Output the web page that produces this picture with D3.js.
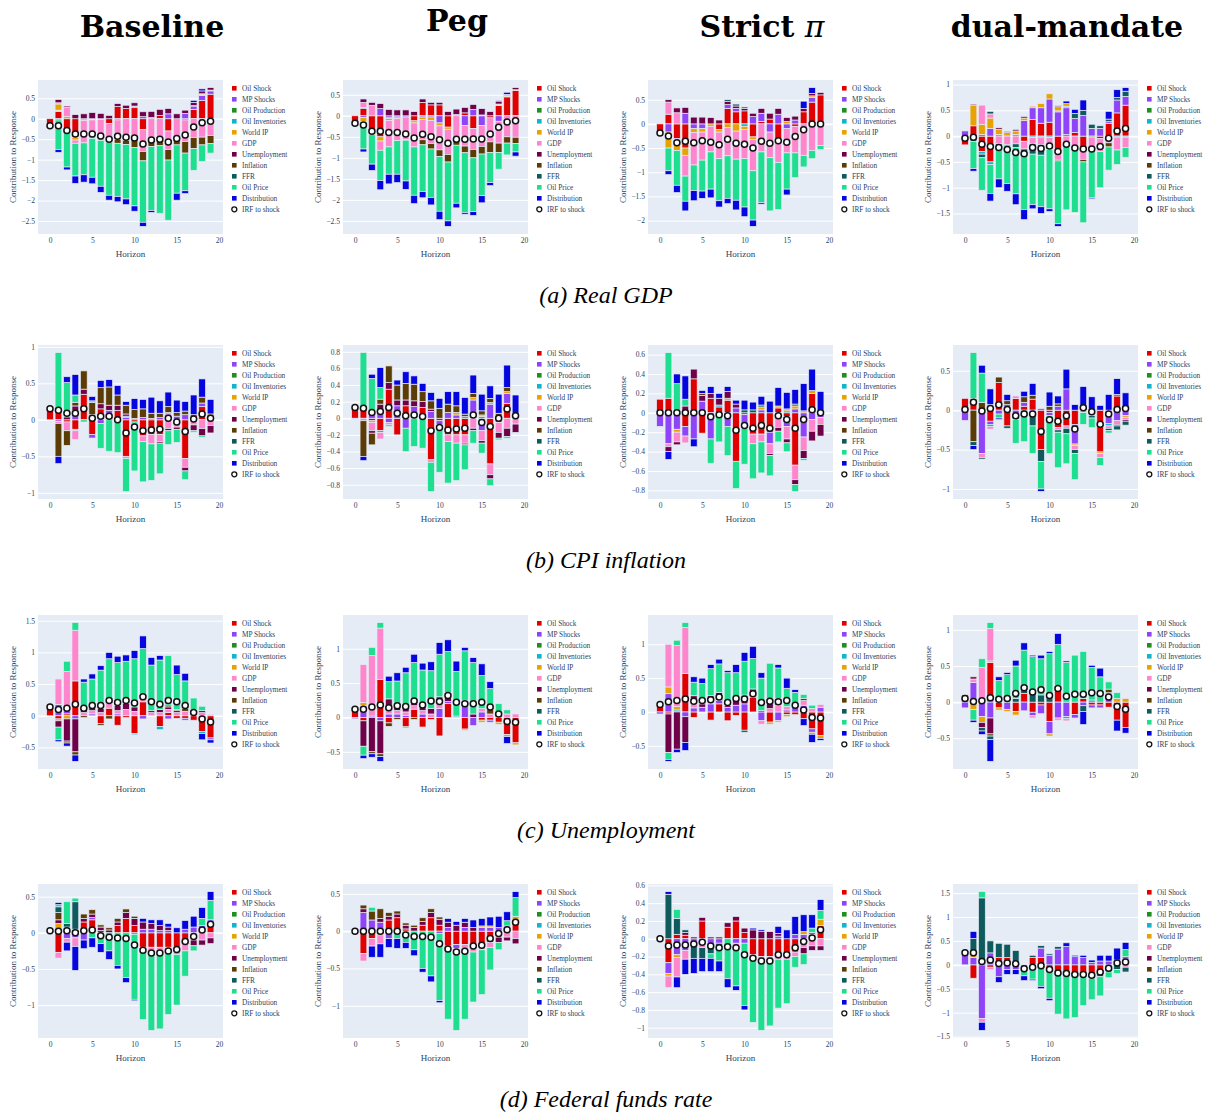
<!DOCTYPE html>
<html>
<head>
<meta charset="utf-8">
<script src="https://cdn.jsdelivr.net/npm/d3@7"></script>
<style>
  body { margin: 0; background: #fff; }
  svg text { font-family: "Liberation Serif", "Times New Roman", serif; }
</style>
</head>
<body>
<div id="visualization"></div>
<script>
// ---- categories / labels ----
const horizons = [0, 1, 2, 3, 4, 5, 6, 7, 8, 9, 10, 11, 12, 13, 14, 15, 16, 17, 18, 19];
const shockNames = ["Oil Shock", "MP Shocks", "Oil Production", "Oil Inventories", "World IP", "GDP",
  "Unemployment", "Inflation", "FFR", "Oil Price", "Distribution"];
const shockColors = ["#e00000", "#8f44f7", "#1f8f1f", "#12b5cb", "#e8a202", "#ff85cc",
  "#700048", "#5c3c05", "#0e5a5c", "#1ddf8f", "#0505e0"];
const columnTitles = ["Baseline", "Peg", "Strict", "dual-mandate"];
const rowCaptions = ["(a) Real GDP", "(b) CPI inflation", "(c) Unemployment", "(d) Federal funds rate"];
const xTicks = [0, 5, 10, 15, 20];
const yTickSteps = [[0.5, 0.5, 0.5, 0.5], [0.5, 0.2, 0.2, 0.5], [0.5, 0.5, 0.5, 0.5], [0.5, 0.5, 0.2, 0.5]];

// ---- (a) Real GDP ----
const gdpBase_oil   = [-0.16,0.18,-0.30,-0.45,0,0,0,-0.12,0.30,0.25,0.27,-0.27,0.03,0.08,-0.30,0,-0.03,0.23,0.45,0.60];
const gdpBase_mp    = [0,-0.03,0,0,-0.03,-0.02,-0.02,0,-0.03,0,0.03,0.05,0,0,0.12,0,0.13,0.08,0.12,0.08];
const gdpBase_prod  = [0,0.01,0,0,0,0,0,0,0,0,0,0,0,0,0,0,0,0,0.01,0];
const gdpBase_inv   = [0,0.02,0,-0.01,-0.01,-0.01,0,0,0,0,0.01,0,0,0,0,0,0,0.01,0.01,0.01];
const gdpBase_wip   = [0,0.15,0.05,-0.06,0,0,0,0,0,0,0,0,0,0,0,0,0,0,0.02,0.01];
const gdpBase_gdp   = [0,0.03,0.23,-0.08,-0.55,-0.45,-0.48,-0.45,-0.47,-0.53,-0.48,-0.53,-0.50,-0.48,-0.45,-0.48,-0.53,-0.46,-0.45,-0.41];
const gdpBase_unemp = [0,0.08,0.03,0.10,0.12,0.15,0.13,0.08,0.07,0.08,0.08,0.12,0.15,0.15,0.13,0.12,0.08,0.08,0.07,0.06];
const gdpBase_infl  = [0,0,0,0,0,0,-0.03,0,-0.10,-0.10,-0.22,-0.23,-0.18,-0.18,-0.26,-0.16,-0.28,-0.27,-0.19,-0.20];
const gdpBase_ffr   = [0,0,0,0,0,0,0,0,0,0,0,0,0,0,0,0,0,0,0,0];
const gdpBase_oilp  = [0,-0.72,-0.88,-0.80,-0.78,-0.95,-1.12,-1.30,-1.30,-1.33,-1.43,-1.50,-1.56,-1.65,-1.47,-1.18,-0.92,-0.53,-0.40,-0.23];
const gdpBase_dist  = [0,-0.07,-0.07,-0.18,-0.18,-0.16,-0.15,-0.12,-0.13,-0.14,-0.13,-0.10,-0.05,0,0,-0.17,-0.07,0.05,0.05,0];
const gdpBase_irf   = [-0.17,-0.17,-0.29,-0.37,-0.37,-0.37,-0.42,-0.50,-0.43,-0.45,-0.47,-0.62,-0.52,-0.50,-0.57,-0.48,-0.40,-0.20,-0.10,-0.06];

const gdpPeg_oil   = [-0.17,0.18,-0.38,-0.50,0,0,0,-0.12,0.32,0.26,0.26,-0.27,0,0.07,-0.30,0,-0.05,0.25,0.45,0.60];
const gdpPeg_mp    = [0,-0.04,0,0.17,-0.05,-0.03,-0.03,0,-0.03,-0.03,-0.17,0,0,-0.23,0.15,-0.23,0,-0.13,0,0];
const gdpPeg_prod  = [0,0,0,0,0,0,0,0,0,0,0,0,0,0,0,0,0,0,0,0];
const gdpPeg_inv   = [0,0.02,0,0,-0.01,0,0,0,0,0,0,0,0.03,0,0,0,0,0.01,0.01,0];
const gdpPeg_wip   = [0,-0.10,-0.07,-0.10,-0.05,-0.04,0,-0.05,-0.06,-0.08,-0.07,-0.05,0,0,0,0.02,0,0.02,0.03,0.02];
const gdpPeg_gdp   = [0,0.12,0.25,-0.22,-0.63,-0.52,-0.53,-0.57,-0.48,-0.55,-0.57,-0.60,-0.55,-0.49,-0.50,-0.50,-0.57,-0.52,-0.50,-0.51];
const gdpPeg_unemp = [0,0.08,0.07,0.12,0.15,0.14,0.14,0.10,0.08,0.06,0.06,0.10,0.13,0.13,0.12,0.15,0.10,0.07,0.02,0.05];
const gdpPeg_infl  = [0,0,0,0,0,0,-0.02,0,-0.12,-0.13,-0.16,-0.18,-0.15,-0.16,-0.20,-0.18,-0.25,-0.22,-0.15,-0.15];
const gdpPeg_ffr   = [0,0,0,0,0,0,0,0,0,0,0,0,0,0,0,0,0,0,0,0];
const gdpPeg_oilp  = [0,-0.65,-0.70,-0.72,-0.65,-0.80,-0.97,-1.15,-1.11,-1.15,-1.30,-1.40,-1.38,-1.42,-1.28,-0.99,-0.72,-0.40,-0.28,-0.20];
const gdpPeg_dist  = [0,-0.07,-0.15,-0.22,-0.23,-0.20,-0.20,-0.20,-0.15,-0.18,-0.20,-0.13,-0.11,-0.04,-0.09,-0.17,-0.07,0.02,0.05,-0.10];
const gdpPeg_irf   = [-0.18,-0.22,-0.37,-0.37,-0.40,-0.40,-0.43,-0.53,-0.44,-0.50,-0.57,-0.65,-0.56,-0.56,-0.55,-0.55,-0.43,-0.27,-0.15,-0.12];

const gdpStrict_oil   = [-0.17,0.20,-0.30,-0.50,0,0,0,-0.12,0.32,0.25,0.27,-0.27,0.05,0.10,-0.30,0,-0.05,0.25,0.45,0.60];
const gdpStrict_mp    = [0,-0.17,-0.03,0.22,-0.10,-0.10,0,0,0.08,0.07,0,0.15,0.17,-0.17,0.20,-0.10,0.08,0,0.10,0];
const gdpStrict_prod  = [0,0,0,0,0,0,0,0,0,0,0,0,0,0,0,0,0,0,0,0];
const gdpStrict_inv   = [0,0,-0.05,0,0,0,0,0,0,0,-0.05,0,0,0,0,0,0,0,0,0];
const gdpStrict_wip   = [0,-0.33,-0.17,-0.15,-0.08,-0.07,-0.05,-0.05,-0.08,-0.15,-0.07,-0.05,0,0,0,0.05,0,0,0.03,0];
const gdpStrict_gdp   = [0,0.25,0.23,-0.43,-0.67,-0.58,-0.53,-0.55,-0.58,-0.58,-0.60,-0.65,-0.58,-0.53,-0.50,-0.50,-0.55,-0.65,-0.55,-0.45];
const gdpStrict_unemp = [0,0.05,0.10,0.12,0.14,0.14,0.13,0.08,0.06,0.05,0.05,0.07,0.10,0.12,0.12,0.08,0.08,0.07,0.05,0.05];
const gdpStrict_infl  = [0,0,0,0,0,0,0,0,0,0,0,0,0,0,0,0,0,0,0,0];
const gdpStrict_ffr   = [0,0,0,0,0,0,0,0,0.04,0.04,0.03,0,0,0,0,0,0,0,0,0];
const gdpStrict_oilp  = [0,-0.47,-0.72,-0.52,-0.53,-0.64,-0.77,-0.87,-0.88,-0.85,-1.00,-1.02,-1.05,-1.10,-0.97,-0.75,-0.51,-0.24,-0.17,-0.08];
const gdpStrict_dist  = [0,-0.08,-0.15,-0.20,-0.21,-0.15,-0.18,-0.13,-0.11,-0.20,-0.20,-0.13,-0.03,0,0,-0.12,0,0.15,0.12,0];
const gdpStrict_irf   = [-0.19,-0.25,-0.39,-0.36,-0.39,-0.35,-0.38,-0.43,-0.32,-0.40,-0.42,-0.50,-0.36,-0.40,-0.35,-0.38,-0.26,-0.12,0,0];

const gdpDual_oil   = [-0.17,0.20,-0.30,-0.50,0,0,0,-0.10,0.32,0.25,0.27,-0.30,0.03,0.07,-0.30,0,-0.05,0.25,0.45,0.60];
const gdpDual_mp    = [0.10,0,0.03,0.15,0.03,0,0.03,0.30,0.23,0.30,0.45,0.47,0.52,0.27,0.40,0.15,0.15,0.03,0.25,0.17];
const gdpDual_prod  = [0,0,0,0,0,0,0,0,0,0,0,0,0,0,0,-0.02,0,0,0,0];
const gdpDual_inv   = [0,0,-0.05,-0.05,0,0,0,0,-0.03,-0.02,-0.03,0.02,0.03,0,0,0,0,0,-0.02,-0.02];
const gdpDual_wip   = [0,0.40,0.20,0.20,0.10,0.07,0.07,0.05,0.03,0.08,0.10,0.08,0.05,0,0,0,0,0,0,0];
const gdpDual_gdp   = [0,0,0.37,0.08,-0.15,-0.17,-0.15,-0.15,-0.12,-0.15,-0.15,-0.15,-0.20,-0.20,-0.15,-0.25,-0.25,-0.13,-0.25,-0.20];
const gdpDual_unemp = [0,0.02,0,0,0.03,0.02,0.03,0.03,0,0,0,0.02,0,0,0,0,0,0,0,0];
const gdpDual_infl  = [0,0,0,0,0,0,0,0,0,0,0,-0.03,0,0,-0.05,0,0,-0.08,0,0];
const gdpDual_ffr   = [0,-0.10,-0.07,0.05,-0.03,0,-0.07,-0.12,-0.20,-0.20,-0.08,0,0,0.10,0.10,0.08,0.05,0.05,0.05,0.10];
const gdpDual_oilp  = [0,-0.53,-0.63,-0.56,-0.65,-0.75,-0.90,-1.05,-0.98,-1.00,-1.15,-1.22,-1.23,-1.28,-1.18,-0.93,-0.70,-0.45,-0.28,-0.19];
const gdpDual_dist  = [0,-0.05,0,-0.15,-0.17,-0.15,-0.21,-0.20,-0.08,-0.13,-0.05,-0.05,0.05,0.08,0.20,-0.02,0,0.15,0.15,0.07];
const gdpDual_irf   = [-0.04,-0.02,-0.16,-0.20,-0.22,-0.26,-0.32,-0.34,-0.22,-0.24,-0.19,-0.30,-0.16,-0.23,-0.25,-0.25,-0.20,-0.04,0.10,0.15];

// ---- (b) CPI inflation ----
const cpiBase_oil   = [0.15,0.15,-0.03,-0.13,0.35,-0.20,0.15,0.08,0.13,-0.50,-0.03,-0.22,-0.20,-0.20,0,0,-0.53,0,0.18,0.03];
const cpiBase_mp    = [0,-0.02,0,0.10,0,-0.05,-0.05,0.05,0,0.03,0.02,0.03,0.02,0.03,0.08,0.05,0.07,0,0.05,0];
const cpiBase_prod  = [0,0,0,0,0,0,0,0,0,0,0,0,0,0,0,0,0,0,0,0];
const cpiBase_inv   = [0,0,0,-0.02,0,0,0,0,0,0.02,0,0,0,0,0,0,0,0.02,0,0];
const cpiBase_wip   = [0,0,0,0.02,0,0,0,0,0,0,0,0,0,0,0.02,0,0,0,0,0];
const cpiBase_gdp   = [0,-0.03,-0.12,-0.12,0,0.05,0,0,0,-0.03,0,-0.08,-0.13,-0.10,-0.12,-0.10,-0.12,-0.07,-0.12,-0.08];
const cpiBase_unemp = [0,0,0.04,0.07,0.07,0.02,0.07,0.07,0.07,0.03,0,0,0,-0.02,-0.03,-0.03,-0.05,-0.08,-0.10,-0.10];
const cpiBase_infl  = [0,-0.45,-0.20,0.05,0.25,0.17,0.22,0.25,0.14,0.12,0.12,0.12,0.07,0.06,0.08,0.05,0.05,0.05,0.08,0.05];
const cpiBase_ffr   = [0,0,0,0,0,0,0,0,0,0,0,0,0,0,0,0,0,0,0,0];
const cpiBase_oilp  = [0,0.77,0.47,0.10,-0.03,0.02,-0.34,-0.43,-0.45,-0.45,-0.67,-0.55,-0.50,-0.42,-0.19,-0.18,-0.12,-0.02,-0.02,0];
const cpiBase_dist  = [0,-0.10,0.08,0.28,0,0.06,0.10,0.10,0.13,0.05,0.15,0.13,0.22,0.17,0.20,0.17,0.13,0.27,0.25,0.20];
const cpiBase_irf   = [0.15,0.13,0.09,0.09,0.15,0.02,0.05,0.05,0.00,-0.18,-0.10,-0.15,-0.14,-0.13,0.02,-0.03,-0.16,0.01,0.08,0.02];

const cpiPeg_oil   = [0.13,0.12,-0.03,-0.15,0.35,-0.20,0.15,0.07,0.13,-0.50,-0.03,-0.20,-0.20,-0.20,0,0,-0.55,0,0.18,0];
const cpiPeg_mp    = [-0.01,0,0.08,0.10,-0.05,0.15,-0.12,0.07,0,0.08,-0.05,0.07,0.04,0,0.22,-0.15,0.17,-0.05,0.12,0.03];
const cpiPeg_prod  = [0,0,0,0,0,0,0,0,0,0,0,0,0,0,0,0,0,0,0,0];
const cpiPeg_inv   = [0,0,0,-0.02,0,0,0,0,0,0,0,0,0,0.02,0,0.02,0,0,0,0];
const cpiPeg_wip   = [0,0,-0.02,0,0,0,0,0,0,0,0,0,0.03,0,0.03,0.02,0.02,0,0.02,0];
const cpiPeg_gdp   = [0,-0.03,-0.10,-0.08,-0.03,0,0,0,0,-0.03,-0.05,-0.08,-0.10,-0.10,-0.12,-0.12,-0.13,-0.12,-0.12,-0.07];
const cpiPeg_unemp = [0,0,-0.03,0.07,0.08,0.07,0.07,0.07,0.07,0.03,0,0,0,-0.02,-0.03,-0.03,-0.05,-0.07,-0.10,-0.10];
const cpiPeg_infl  = [0,-0.43,-0.14,0.06,0.20,0.18,0.20,0.20,0.12,0.10,0.12,0.10,0.08,0.03,0.05,0.05,0.05,0.06,0.05,0.03];
const cpiPeg_ffr   = [0,0,0,0,0,0,0,0,0,0,0,0,0,0,0,0,0,0,0,0];
const cpiPeg_oilp  = [0,0.67,0.40,0.14,-0.02,0,-0.28,-0.34,-0.36,-0.35,-0.52,-0.50,-0.45,-0.30,-0.15,-0.12,-0.08,-0.02,-0.02,0];
const cpiPeg_dist  = [0,-0.05,0.05,0.24,0,0.06,0.14,0.10,0.10,0.10,0.12,0.15,0.17,0.20,0.22,0.20,0.15,0.23,0.27,0.22];
const cpiPeg_irf   = [0.13,0.12,0.07,0.08,0.13,0.06,0.03,0.04,0.02,-0.15,-0.11,-0.14,-0.13,-0.12,0.04,-0.05,-0.10,0.00,0.11,0.03];

const cpiStrict_oil   = [0.14,0.15,-0.02,-0.14,0.35,-0.21,0.15,0.06,0.13,-0.50,-0.02,-0.22,-0.22,-0.20,0.05,-0.04,-0.54,0,0.20,0.02];
const cpiStrict_mp    = [-0.14,-0.32,-0.15,-0.10,-0.27,0.12,-0.27,-0.03,-0.14,0.05,-0.10,0,0.03,-0.12,0,-0.10,0.04,-0.25,-0.07,-0.05];
const cpiStrict_prod  = [0,0,0,0,0,0,0,0,0,0,0,0,0,0,0,0,0,0,0,0];
const cpiStrict_inv   = [0,0,0,0,0,0,0,0.02,0,0,0,0,0,0,0,0.02,0,0,0,0];
const cpiStrict_wip   = [0,0,-0.03,0,0,0,0,0,0.02,0,0,0,0.03,0,0.02,0.02,0.03,0.02,0.03,0];
const cpiStrict_gdp   = [0,-0.03,-0.10,-0.07,0,0,0,0,0,0,-0.04,-0.10,-0.08,-0.10,-0.15,-0.13,-0.15,-0.14,-0.12,-0.07];
const cpiStrict_unemp = [0,-0.05,-0.03,0.07,0.10,0.06,0.05,0.07,0.07,0.04,0,0,0,-0.02,-0.04,-0.04,-0.05,-0.08,-0.10,-0.12];
const cpiStrict_infl  = [0,0,0,0,0,0.02,0,0,0,0,0,0,0,0,0,0,0,0,0,0];
const cpiStrict_ffr   = [0,0,0,0,0,0,0,0,0,0,0.03,0.03,0.02,0,0,0,0.02,0,0,0];
const cpiStrict_oilp  = [0,0.47,0.30,0.07,0,0,-0.25,-0.27,-0.30,-0.28,-0.37,-0.36,-0.32,-0.21,-0.11,-0.09,-0.07,-0.02,0,0];
const cpiStrict_dist  = [0,-0.08,0.10,0.24,-0.08,0.03,0.07,0.05,0.05,0.04,0.10,0.08,0.09,0.12,0.19,0.17,0.15,0.28,0.22,0.20];
const cpiStrict_irf   = [0,0,0,0,0,0,-0.04,-0.02,-0.03,-0.18,-0.13,-0.16,-0.13,-0.16,-0.03,-0.07,-0.16,-0.07,0.03,0];

const cpiDual_oil   = [0.15,0.15,-0.02,-0.14,0.35,-0.20,0.15,0.05,0.14,-0.50,-0.03,-0.22,-0.20,-0.18,0,0,-0.53,0,0.18,0];
const cpiDual_mp    = [-0.13,0,-0.53,-0.04,-0.05,0.07,-0.07,0.05,-0.05,0.02,-0.04,0.05,0.27,-0.25,0,-0.05,0,-0.17,-0.13,-0.07];
const cpiDual_prod  = [0,0,0,0,0,0,0,0,0,0,0,0,0,0,0,0,0,0,0,0];
const cpiDual_inv   = [0,0,0,-0.03,0,0,0,0,0,0,0,0,0,0,0,0,0,-0.03,0,0];
const cpiDual_wip   = [0,0,0,0.02,0,0,0,0,0,0,0,0,0,-0.02,0.02,0,-0.02,0,0,-0.02];
const cpiDual_gdp   = [0,0,-0.05,-0.03,0,0,0.03,0,0,0,0,-0.03,-0.03,-0.05,-0.03,-0.02,-0.05,-0.03,-0.05,-0.03];
const cpiDual_unemp = [0,0,0,0,0,0,0,0,0,0,0,0,0,0,0,0,0,0,-0.02,-0.02];
const cpiDual_infl  = [0,-0.40,0.10,0,0.07,0.05,0,0.07,0.05,0,0.05,0.03,0,0,0,0,0,0,0.02,0];
const cpiDual_ffr   = [0,-0.05,-0.02,0,0,-0.03,-0.05,-0.08,-0.15,-0.15,0,-0.03,-0.07,-0.05,0,-0.03,0,-0.03,-0.05,-0.05];
const cpiDual_oilp  = [0,0.58,0.37,0.05,-0.05,0,-0.30,-0.32,-0.35,-0.35,-0.48,-0.45,-0.38,-0.33,-0.15,-0.12,-0.10,-0.03,0,0];
const cpiDual_dist  = [0,-0.05,0.10,0.20,-0.02,0.08,0,0.07,0.15,-0.03,0.18,0.10,0.25,0.07,0.28,0.17,0.06,0.20,0.20,0.22];
const cpiDual_irf   = [0.01,0.10,-0.01,0.02,0.07,0.01,-0.07,-0.05,-0.05,-0.27,-0.12,-0.14,-0.07,-0.24,0.03,-0.02,-0.18,-0.05,0.01,0.02];

// ---- (c) Unemployment ----
const unBase_oil   = [0.12,-0.05,0.03,0.55,0,0,-0.12,0.12,-0.15,-0.03,-0.28,0.22,0,-0.17,0.05,-0.04,-0.04,-0.07,-0.25,-0.35];
const unBase_mp    = [0,0.18,0.10,-0.05,0,0.03,0,0,0.03,0,0,-0.05,0,0,-0.05,0,-0.03,0.05,0,-0.03];
const unBase_prod  = [0,0,0,0,0,0,0,0,0,0,0,0,0,0,0,0,0,0,0,0];
const unBase_inv   = [0,0,0,0,0,0,0,0,0,0,-0.02,0,0,-0.05,0,0,0,0,-0.03,0];
const unBase_wip   = [0,-0.03,-0.05,0,0,0,0,0,0,0,0,0,0,0,0,0,0,0,0,0];
const unBase_gdp   = [0,0.40,0.57,0.80,0.05,0.05,0.05,0.08,0.05,0.10,0.07,0.05,0.05,0.05,0.05,0.05,0.07,0,0.05,0.02];
const unBase_unemp = [0,-0.10,-0.35,-0.52,0.10,0.05,0.07,0.05,0.08,0.10,0.07,0.07,0.03,0.05,0.04,0.03,0,0,0.03,0];
const unBase_infl  = [0,0,-0.03,-0.05,-0.03,0,-0.03,-0.05,0,0,0,0,0,0,0.03,0.02,0.05,0.05,0,0];
const unBase_ffr   = [0,0,0,0,0,0,0,0,0,0,0,0,0,0,0,0,0,0,0,0];
const unBase_oilp  = [0,-0.20,0.16,0.12,0.38,0.45,0.60,0.65,0.68,0.66,0.76,0.72,0.72,0.78,0.78,0.55,0.43,0.18,0.07,0];
const unBase_dist  = [0,-0.03,-0.05,-0.10,0.05,0.08,0.07,0.10,0.10,0.10,0.13,0.20,0.12,0.07,0,0.15,0.12,0,-0.10,-0.05];
const unBase_irf   = [0.14,0.10,0.12,0.18,0.12,0.16,0.16,0.24,0.21,0.24,0.20,0.30,0.22,0.18,0.24,0.22,0.16,0.05,-0.05,-0.10];

const unPeg_oil   = [0.12,-0.05,0,0.55,-0.08,0,-0.13,0.12,-0.14,-0.03,-0.27,0.20,0,-0.17,0,-0.04,-0.04,-0.07,-0.25,-0.37];
const unPeg_mp    = [-0.02,0.17,0.02,-0.05,0.05,0.05,0.03,0,0.05,0,0.13,0.03,0,0.20,-0.12,0.08,-0.03,0,0,0];
const unPeg_prod  = [0,0,0,0,0,0,0,0,0,0,0,0,0,0,0,0,0,0,0,0];
const unPeg_inv   = [0,0,0,0,0,0,0,0,0,0,0,0,0.02,0,0,0,0,0,0,0];
const unPeg_wip   = [0,0.05,0,0,0,0,0,0,0,0,0,0,0,-0.02,0,-0.03,0,-0.03,-0.03,-0.03];
const unPeg_gdp   = [0,0.55,0.88,0.75,0.05,0.05,0.05,0.05,0.05,0.05,0.10,0,0,0.05,0,0.05,0.05,0,0.05,0.05];
const unPeg_unemp = [0,-0.37,-0.50,-0.48,0.17,0.05,0.07,0.08,0.07,0.08,0.07,0.10,0,0,0.05,0,0,0,0,0];
const unPeg_infl  = [0,0,-0.03,-0.04,-0.05,-0.03,-0.02,-0.03,0,0,0,0.03,0,0,0,0,0.07,0.05,0,0];
const unPeg_ffr   = [0,0,0,0,0,0,0,0,0,0,0,0,0,0,0,0,0,0,0,0];
const unPeg_oilp  = [0,-0.13,0.12,0.08,0.25,0.38,0.50,0.55,0.52,0.55,0.62,0.60,0.65,0.72,0.75,0.48,0.30,0.15,0.06,0];
const unPeg_dist  = [0,-0.05,-0.05,-0.07,0.08,0.12,0.08,0.12,0.10,0.13,0.17,0.17,0.15,0.05,0.07,0.17,0.10,0,-0.10,0];
const unPeg_irf   = [0.12,0.12,0.15,0.18,0.14,0.17,0.16,0.24,0.18,0.24,0.23,0.32,0.22,0.20,0.20,0.22,0.15,0.05,-0.06,-0.07];

const unStrict_oil   = [0.10,-0.03,0,0.57,-0.08,0,-0.12,0.12,-0.13,-0.05,-0.27,0.22,0,-0.15,0,-0.04,-0.04,-0.10,-0.25,-0.35];
const unStrict_mp    = [-0.03,0.27,0,-0.07,0.06,0.07,0.12,0.05,0.07,0.10,0.12,0,-0.13,0,-0.13,0.03,0.07,0.10,-0.05,0.07];
const unStrict_prod  = [0,0,0,0,0,0,0,0,0,0,0,0,0,0,0,0,0,0,0,0];
const unStrict_inv   = [0,0,0.03,0,0,0,0,0,0,0,0,0,0,0,0,0,0,0,0,0];
const unStrict_wip   = [0,0.10,0.05,0,0,0,0,0,0,0,0,0,0,-0.03,-0.02,-0.03,0,0,-0.03,-0.04];
const unStrict_gdp   = [0,0.63,0.90,0.68,0.06,0,0.05,0,0,0,0,0.05,-0.05,0.05,0.10,0.05,0,0.07,0.05,0.04];
const unStrict_unemp = [0,-0.57,-0.55,-0.38,0.12,0.05,0.07,0.12,0.03,0.10,0.13,0.07,0,0.15,0.10,0,0,0,0,0];
const unStrict_infl  = [0,0,0,0,0,0,0,0,0,0,0,0,0.02,0,0,0,0,0.03,0,0];
const unStrict_ffr   = [0,0,0,0,0,0,0,0,0,0,-0.03,0,0,0,0,0,0,0,0,0];
const unStrict_oilp  = [0,-0.10,0.08,0.07,0.20,0.30,0.40,0.42,0.48,0.38,0.50,0.45,0.48,0.52,0.45,0.27,0.22,0.06,0.05,0];
const unStrict_dist  = [0,-0.03,-0.05,-0.12,0.08,0.08,0.06,0.07,0.03,0.12,0.13,0.18,0.08,0,0.05,0.15,0.04,-0.10,-0.12,-0.03];
const unStrict_irf   = [0.11,0.15,0.17,0.19,0.16,0.17,0.18,0.22,0.14,0.20,0.19,0.27,0.14,0.16,0.15,0.17,0.10,0.03,-0.08,-0.09];

const unDual_oil   = [0.10,0,0,0.55,-0.08,0,-0.13,0.12,-0.14,-0.04,-0.27,0.20,0,-0.17,0.05,-0.04,-0.04,-0.07,-0.25,-0.35];
const unDual_mp    = [-0.08,0.27,-0.20,-0.22,0,-0.10,0,-0.12,-0.05,-0.12,-0.17,-0.22,-0.20,-0.05,-0.05,-0.04,-0.04,0.10,0,0];
const unDual_prod  = [0,0,0,0,0,0,0,0,0,0,0,0,0,0,0,0,0,0,0,0];
const unDual_inv   = [0,0,0,0,0,0,0,0,0,0,0,0,-0.03,0,0,0.03,0,0,0,0];
const unDual_wip   = [0,-0.10,-0.08,0.02,-0.03,-0.03,-0.05,0,0,0,-0.03,0,0,0,0,0,0,0,0.05,0.05];
const unDual_gdp   = [0,0.05,0.48,0.45,0,0,0,0,-0.03,0,0,-0.03,-0.03,0,0,0,0,0.03,0,0];
const unDual_unemp = [0,0.03,-0.07,-0.22,0,0,0,0,0,0,0,0,0,0,0,0,0,0,0,0];
const unDual_infl  = [0,0,0,-0.03,0,0,0,0,0,0,0,0,0,0,0,0,0,0.05,0,0];
const unDual_ffr   = [0,0,-0.05,-0.05,0,0,0.05,0.10,0.15,0.10,0.12,0.03,0,0,-0.08,0,0,0,0,0];
const unDual_oilp  = [0,-0.15,0.12,0.08,0.30,0.38,0.45,0.50,0.48,0.50,0.55,0.57,0.55,0.65,0.65,0.45,0.35,0.10,0.08,0];
const unDual_dist  = [0,-0.03,-0.05,-0.30,0.05,0.03,0.08,0.10,0.02,0.05,0.03,0.15,0.02,0,-0.18,0.03,0.12,0,-0.15,-0.08];
const unDual_irf   = [0.05,0.01,0.02,0.06,0.04,0.05,0.12,0.20,0.14,0.17,0.09,0.19,0.08,0.11,0.11,0.13,0.12,0.07,-0.06,-0.10];

// ---- (d) Federal funds rate ----
const ffrBase_oil   = [0,-0.27,0,0,0.15,0.18,0.03,0,0.10,0.20,0.10,-0.20,-0.20,-0.20,-0.20,-0.20,-0.15,0,0.05,0.10];
const ffrBase_mp    = [0,0,-0.08,-0.07,-0.10,0.03,0,0,0,0,-0.02,0.05,0.05,0.03,0.03,0,0.05,0.08,0.05,0.08];
const ffrBase_prod  = [0,0,0,0,0,0,0,0,0,0,0,0,0,0,0,0,0,0,0,0];
const ffrBase_inv   = [0,0.03,0,0,0,0,0,0,0,0,0,0,0,0,0,0,0,0,0,0];
const ffrBase_wip   = [0,0.10,0,0,0,0,0,0,0,0,0,0,0,0,0,0,0,0,0,0];
const ffrBase_gdp   = [0,-0.08,-0.05,-0.12,0,0,0,0,0,0,0,-0.05,-0.07,-0.08,-0.08,-0.10,-0.10,-0.10,-0.10,-0.07];
const ffrBase_unemp = [0,0.05,0.03,0.05,0.05,0.05,0.05,0.04,0.05,0.08,0.10,0.10,0.08,0.07,0.05,0,0,-0.08,-0.07,-0.08];
const ffrBase_infl  = [0,0.10,0.05,0,0.06,0.06,0.03,0.03,0.05,0.05,0.03,0,0,0,0,0,0,0,0,0];
const ffrBase_ffr   = [0,0.08,0.05,0.38,0,0,0,0,0,0,0,0,0,0,0,0,0,0,0,0];
const ffrBase_oilp  = [0,0.03,0.30,0.05,0,-0.07,-0.15,-0.25,-0.45,-0.62,-0.90,-0.95,-1.08,-1.05,-0.85,-0.70,-0.35,-0.07,0.10,0.27];
const ffrBase_dist  = [0,0.03,-0.12,-0.33,-0.12,-0.13,-0.12,-0.12,-0.05,-0.07,-0.02,0.05,0.05,0.08,0.05,0.07,0.12,0.15,0.15,0.12];
const ffrBase_irf   = [0.03,0.02,0.03,0.00,0.03,0.04,-0.04,-0.06,-0.07,-0.08,-0.17,-0.24,-0.28,-0.28,-0.25,-0.23,-0.12,-0.05,0.04,0.12];

const ffrPeg_oil   = [0,-0.30,-0.10,-0.05,0.15,0.18,0.03,0,0.08,0.18,0.08,-0.20,-0.18,-0.18,-0.18,-0.18,-0.15,0,0.05,0.10];
const ffrPeg_mp    = [0,0.25,0.15,0.12,-0.10,-0.03,0,0,0,0,-0.03,0.05,-0.05,0.05,-0.05,0.05,0.05,0.05,0.02,0.05];
const ffrPeg_prod  = [0,0,0,0,0,0,0,0,0,0,0,0,0,0,0,0,0,0,0,0];
const ffrPeg_inv   = [0,0,0,0,0,0,0,0,0,0,0,0,0,0,0,0,0,0,0,0];
const ffrPeg_wip   = [0,0,0,0,0,0,0,0,0,0,0,0,0,0,0,0.02,0.02,0,0,0.05];
const ffrPeg_gdp   = [0,-0.10,-0.10,-0.12,0,0,0,0,0,0,0,-0.05,-0.05,-0.05,-0.05,-0.07,-0.07,-0.08,-0.08,-0.10];
const ffrPeg_unemp = [0,0.05,0,0.05,0.05,0.05,0.05,0.05,0.05,0.07,0.08,0.07,0.08,0.07,0.05,0,0,-0.07,-0.05,-0.07];
const ffrPeg_infl  = [0,0.05,0.12,0.13,0.05,0.04,0.03,0.03,0.05,0.05,0.03,0,0,0,0,0,0,0,0,0];
const ffrPeg_ffr   = [0,0,0,0,0,0,0,0,0,0,0,0,0,0,0,0,0,0,0,0];
const ffrPeg_oilp  = [0,0,0.05,0,0,-0.07,-0.15,-0.25,-0.50,-0.60,-0.90,-0.93,-1.05,-0.95,-0.67,-0.60,-0.30,-0.10,0.07,0.25];
const ffrPeg_dist  = [0,0,-0.15,-0.18,-0.12,-0.13,-0.08,-0.08,-0.05,-0.08,-0.03,0.05,0.05,0.05,0.10,0.10,0.12,0.15,0.12,0.08];
const ffrPeg_irf   = [0,0,0,0,0,0,-0.05,-0.07,-0.07,-0.08,-0.17,-0.24,-0.28,-0.27,-0.20,-0.19,-0.10,-0.03,0.02,0.12];

const ffrStrict_oil   = [0,-0.27,0.05,0.04,0,0.20,0,0,0.13,0.20,0.07,-0.18,-0.20,-0.20,-0.18,-0.18,-0.15,0,0.05,0.15];
const ffrStrict_mp    = [0,-0.12,-0.18,-0.13,-0.07,-0.05,-0.07,-0.05,0,-0.05,-0.05,0,0,0,0.03,0,0.05,0.05,0.02,0];
const ffrStrict_prod  = [0,0,0,0,0,0,0,0,0,0,0,0,0,0,0,0,0,0,0,0];
const ffrStrict_inv   = [0,0,0,0,0,0,0,0,0,0,0,0,0,0,0,0,0,0,0,0];
const ffrStrict_wip   = [0,-0.03,-0.03,0,0,0,0,0,0,0,0,0,0,0,0,0,0,0.03,0,0.07];
const ffrStrict_gdp   = [0,-0.13,-0.22,-0.10,0,-0.05,0,0,0,-0.03,0,-0.03,-0.03,-0.03,-0.05,-0.05,-0.05,-0.10,-0.08,-0.08];
const ffrStrict_unemp = [0,0,0,0.03,0.02,0.04,0.02,0.02,0.05,0.05,0.05,0.10,0.08,0.08,0.03,0,0,-0.07,-0.05,-0.05];
const ffrStrict_infl  = [0,0,0,0,0,0,0,0,0,0,0,0,0,0,0,0,0,0,0,0];
const ffrStrict_ffr   = [0,0.50,0.18,0.03,-0.15,-0.12,-0.10,-0.05,0,0,0,0,0,0,0,0,0,0,0,0];
const ffrStrict_oilp  = [0,0,0.10,0,0,0,-0.05,-0.15,-0.45,-0.45,-0.70,-0.73,-0.80,-0.75,-0.55,-0.50,-0.12,-0.12,0.05,0.10];
const ffrStrict_dist  = [0,0.03,-0.12,-0.17,-0.17,-0.15,-0.15,-0.12,-0.10,-0.05,-0.05,0.02,0.02,0,0.08,0.10,0.20,0.19,0.15,0.12];
const ffrStrict_irf   = [0,-0.08,-0.07,-0.07,-0.06,-0.04,-0.08,-0.10,-0.09,-0.10,-0.18,-0.22,-0.25,-0.25,-0.18,-0.18,-0.10,-0.03,0.01,0.10];

const ffrDual_oil   = [0,-0.28,0,-0.05,0.15,0.15,0.05,0,0.15,0.15,-0.10,-0.18,-0.20,-0.20,-0.20,-0.18,-0.15,-0.05,0.05,0.12];
const ffrDual_mp    = [0.22,0.15,-1.12,0.25,-0.25,-0.10,-0.10,-0.05,0,0.20,0.20,0.33,0.38,0.17,0.15,0.05,0.08,0.08,0.05,0.05];
const ffrDual_prod  = [0,0,0,0,0,0,0,0,0,0,0,0,0,0,0,0,0,0,0,0];
const ffrDual_inv   = [0,0,0,0,0,0,0,0,0,0,0,0,0,0,0,0,0,0,0,0];
const ffrDual_wip   = [0,0.12,0,0,0,0,0,0,0,0,0,0,0,0,0,0,0,0,0,0];
const ffrDual_gdp   = [0,0,-0.08,-0.05,0,0,0,0,0,0,0,0,0,0,0,0,0,0,0,-0.05];
const ffrDual_unemp = [0,0,0,0,0,0,0,0,0,0,0,0,0,0,0,0,0,0,0,0];
const ffrDual_infl  = [0,0,0,0,0,0,0,0,0,0,0,0,0,0,0,0,0,0,0,0];
const ffrDual_ffr   = [0,0.28,1.40,0.25,0.30,0.28,0.25,0,0.05,0.05,0.03,0.05,0,-0.05,-0.05,-0.10,-0.10,-0.10,-0.10,-0.10];
const ffrDual_oilp  = [0,0,0.13,0,0,0,0,-0.18,-0.30,-0.45,-0.60,-0.85,-0.93,-0.85,-0.60,-0.45,-0.40,-0.12,-0.08,0.15];
const ffrDual_dist  = [0,0.15,-0.17,0,-0.12,-0.10,-0.10,-0.10,-0.03,-0.05,-0.05,0,0.08,0.03,0.05,0.05,0.12,0.12,0.25,0.15];
const ffrDual_irf   = [0.25,0.25,0.07,0.10,0.03,0.04,0.02,-0.08,-0.05,-0.02,-0.10,-0.17,-0.18,-0.20,-0.20,-0.22,-0.15,-0.07,0.04,0.06];

// group the arrays per panel (order of parts = order of shockNames)
function panel(oil, mp, prod, inv, wip, gdp, unemp, infl, ffr, oilp, dist, irf) {
  return { parts: [oil, mp, prod, inv, wip, gdp, unemp, infl, ffr, oilp, dist], irf: irf };
}
const grid = [
  [panel(gdpBase_oil, gdpBase_mp, gdpBase_prod, gdpBase_inv, gdpBase_wip, gdpBase_gdp, gdpBase_unemp, gdpBase_infl, gdpBase_ffr, gdpBase_oilp, gdpBase_dist, gdpBase_irf),
   panel(gdpPeg_oil, gdpPeg_mp, gdpPeg_prod, gdpPeg_inv, gdpPeg_wip, gdpPeg_gdp, gdpPeg_unemp, gdpPeg_infl, gdpPeg_ffr, gdpPeg_oilp, gdpPeg_dist, gdpPeg_irf),
   panel(gdpStrict_oil, gdpStrict_mp, gdpStrict_prod, gdpStrict_inv, gdpStrict_wip, gdpStrict_gdp, gdpStrict_unemp, gdpStrict_infl, gdpStrict_ffr, gdpStrict_oilp, gdpStrict_dist, gdpStrict_irf),
   panel(gdpDual_oil, gdpDual_mp, gdpDual_prod, gdpDual_inv, gdpDual_wip, gdpDual_gdp, gdpDual_unemp, gdpDual_infl, gdpDual_ffr, gdpDual_oilp, gdpDual_dist, gdpDual_irf)],
  [panel(cpiBase_oil, cpiBase_mp, cpiBase_prod, cpiBase_inv, cpiBase_wip, cpiBase_gdp, cpiBase_unemp, cpiBase_infl, cpiBase_ffr, cpiBase_oilp, cpiBase_dist, cpiBase_irf),
   panel(cpiPeg_oil, cpiPeg_mp, cpiPeg_prod, cpiPeg_inv, cpiPeg_wip, cpiPeg_gdp, cpiPeg_unemp, cpiPeg_infl, cpiPeg_ffr, cpiPeg_oilp, cpiPeg_dist, cpiPeg_irf),
   panel(cpiStrict_oil, cpiStrict_mp, cpiStrict_prod, cpiStrict_inv, cpiStrict_wip, cpiStrict_gdp, cpiStrict_unemp, cpiStrict_infl, cpiStrict_ffr, cpiStrict_oilp, cpiStrict_dist, cpiStrict_irf),
   panel(cpiDual_oil, cpiDual_mp, cpiDual_prod, cpiDual_inv, cpiDual_wip, cpiDual_gdp, cpiDual_unemp, cpiDual_infl, cpiDual_ffr, cpiDual_oilp, cpiDual_dist, cpiDual_irf)],
  [panel(unBase_oil, unBase_mp, unBase_prod, unBase_inv, unBase_wip, unBase_gdp, unBase_unemp, unBase_infl, unBase_ffr, unBase_oilp, unBase_dist, unBase_irf),
   panel(unPeg_oil, unPeg_mp, unPeg_prod, unPeg_inv, unPeg_wip, unPeg_gdp, unPeg_unemp, unPeg_infl, unPeg_ffr, unPeg_oilp, unPeg_dist, unPeg_irf),
   panel(unStrict_oil, unStrict_mp, unStrict_prod, unStrict_inv, unStrict_wip, unStrict_gdp, unStrict_unemp, unStrict_infl, unStrict_ffr, unStrict_oilp, unStrict_dist, unStrict_irf),
   panel(unDual_oil, unDual_mp, unDual_prod, unDual_inv, unDual_wip, unDual_gdp, unDual_unemp, unDual_infl, unDual_ffr, unDual_oilp, unDual_dist, unDual_irf)],
  [panel(ffrBase_oil, ffrBase_mp, ffrBase_prod, ffrBase_inv, ffrBase_wip, ffrBase_gdp, ffrBase_unemp, ffrBase_infl, ffrBase_ffr, ffrBase_oilp, ffrBase_dist, ffrBase_irf),
   panel(ffrPeg_oil, ffrPeg_mp, ffrPeg_prod, ffrPeg_inv, ffrPeg_wip, ffrPeg_gdp, ffrPeg_unemp, ffrPeg_infl, ffrPeg_ffr, ffrPeg_oilp, ffrPeg_dist, ffrPeg_irf),
   panel(ffrStrict_oil, ffrStrict_mp, ffrStrict_prod, ffrStrict_inv, ffrStrict_wip, ffrStrict_gdp, ffrStrict_unemp, ffrStrict_infl, ffrStrict_ffr, ffrStrict_oilp, ffrStrict_dist, ffrStrict_irf),
   panel(ffrDual_oil, ffrDual_mp, ffrDual_prod, ffrDual_inv, ffrDual_wip, ffrDual_gdp, ffrDual_unemp, ffrDual_infl, ffrDual_ffr, ffrDual_oilp, ffrDual_dist, ffrDual_irf)]
];

// ---- layout ----
const svgWidth = 1210;
const svgHeight = 1117;
const colLeft = [38, 343, 648, 953];
const rowTop = [80, 345, 615, 884];
const plotW = 185;
const plotH = 154;
const fontColor = "#2a3f5f";

const svg = d3.select("#visualization")
  .append("svg")
  .attr("width", svgWidth)
  .attr("height", svgHeight);

// column titles
columnTitles.forEach((t, i) => {
  const txt = svg.append("text")
    .attr("x", 152 + 305 * i)
    .attr("y", i === 1 ? 31 : 37)
    .attr("text-anchor", "middle")
    .style("font-family", "'DejaVu Serif', serif")
    .style("font-weight", "bold")
    .style("font-size", "30px")
    .style("fill", "#000")
    .text(t);
  if (t === "Strict") {
    txt.append("tspan").text(" ");
    txt.append("tspan").style("font-style", "italic").style("font-weight", "normal").text("π");
  }
});

// row captions
rowCaptions.forEach((c, j) => {
  svg.append("text")
    .attr("x", 606)
    .attr("y", rowTop[j] + 223)
    .attr("text-anchor", "middle")
    .style("font-style", "italic")
    .style("font-size", "24px")
    .style("fill", "#000")
    .text(c);
});

function drawPanel(p, x0, top, step) {
  // stack bars: positive values upward, negative downward, in trace order
  const segs = [];
  let hi = 0, lo = 0;
  horizons.forEach((h, i) => {
    let pos = 0, neg = 0;
    p.parts.forEach((arr, k) => {
      const v = arr[i];
      if (!v) return;
      if (v > 0) { segs.push({ h, k, y0: pos, y1: pos + v }); pos += v; }
      else { segs.push({ h, k, y0: neg + v, y1: neg }); neg += v; }
    });
    hi = Math.max(hi, pos, p.irf[i]);
    lo = Math.min(lo, neg, p.irf[i]);
  });
  const pad = (hi - lo) * 0.055;

  const XScale = d3.scaleLinear([0, 20], [x0 + 12, x0 + 181]);
  const YScale = d3.scaleLinear([lo - pad, hi + pad], [top + plotH, top]);
  const bw = (XScale(1) - XScale(0)) * 0.8;

  const g = svg.append("g");

  g.append("rect")
    .attr("x", x0).attr("y", top)
    .attr("width", plotW).attr("height", plotH)
    .attr("fill", "#E5ECF6");

  // y ticks + white grid
  const first = Math.ceil((lo - pad) / step - 1e-9);
  const last = Math.floor((hi + pad) / step + 1e-9);
  const yTicks = [];
  for (let i = first; i <= last; i++) yTicks.push(+(i * step).toFixed(2));

  const YAxis = d3.axisLeft(YScale)
    .tickValues(yTicks)
    .tickSizeInner(-plotW)
    .tickSizeOuter(0)
    .tickPadding(3)
    .tickFormat(d3.format("~g"));

  const ya = g.append("g")
    .attr("transform", `translate(${x0},0)`)
    .call(YAxis);
  ya.select(".domain").remove();
  ya.selectAll("line")
    .attr("stroke", "#fff")
    .attr("stroke-width", d => d === 0 ? 1.6 : 1);
  ya.selectAll("text")
    .style("font-family", "'Liberation Serif', serif")
    .style("font-size", "7.5px")
    .style("fill", fontColor);

  const XAxis = d3.axisBottom(XScale).tickValues(xTicks).tickSize(0).tickPadding(4);
  const xa = g.append("g")
    .attr("transform", `translate(0,${top + plotH})`)
    .call(XAxis);
  xa.select(".domain").remove();
  xa.selectAll("text")
    .style("font-family", "'Liberation Serif', serif")
    .style("font-size", "7.5px")
    .style("fill", fontColor);

  // bars
  g.selectAll("rect.seg")
    .data(segs)
    .enter()
    .append("rect")
    .attr("class", "seg")
    .attr("x", d => XScale(d.h) - bw / 2)
    .attr("width", bw)
    .attr("y", d => YScale(d.y1))
    .attr("height", d => YScale(d.y0) - YScale(d.y1))
    .attr("fill", d => shockColors[d.k])
    .attr("stroke", "#E5ECF6")
    .attr("stroke-width", 0.7);

  // IRF markers
  g.selectAll("circle.irf")
    .data(p.irf)
    .enter()
    .append("circle")
    .attr("class", "irf")
    .attr("cx", (d, i) => XScale(horizons[i]))
    .attr("cy", d => YScale(d))
    .attr("r", 3)
    .attr("fill", "#fff")
    .attr("stroke", "#111")
    .attr("stroke-width", 1.5);

  // axis titles
  g.append("text")
    .attr("transform", `translate(${x0 - 25},${top + plotH / 2}) rotate(-90)`)
    .attr("text-anchor", "middle")
    .attr("dominant-baseline", "central")
    .style("font-size", "9px")
    .style("fill", fontColor)
    .text("Contribution to Response");

  g.append("text")
    .attr("x", x0 + plotW / 2)
    .attr("y", top + 177)
    .attr("text-anchor", "middle")
    .style("font-size", "9px")
    .style("fill", fontColor)
    .text("Horizon");

  // legend
  const lg = g.append("g").attr("transform", `translate(${x0 + 194},${top + 8.3})`);
  shockNames.forEach((name, k) => {
    lg.append("rect")
      .attr("x", 0).attr("y", k * 11 - 2.3)
      .attr("width", 4.6).attr("height", 4.6)
      .attr("fill", shockColors[k]);
    lg.append("text")
      .attr("x", 10).attr("y", k * 11)
      .attr("dominant-baseline", "central")
      .style("font-size", "7.3px")
      .style("fill", fontColor)
      .text(name);
  });
  lg.append("circle")
    .attr("cx", 2.3).attr("cy", 11 * 11)
    .attr("r", 2.5)
    .attr("fill", "#fff")
    .attr("stroke", "#111")
    .attr("stroke-width", 1.3);
  lg.append("text")
    .attr("x", 10).attr("y", 11 * 11)
    .attr("dominant-baseline", "central")
    .style("font-size", "7.3px")
    .style("fill", fontColor)
    .text("IRF to shock");
}

grid.forEach((row, j) => {
  row.forEach((p, i) => {
    drawPanel(p, colLeft[i], rowTop[j], yTickSteps[j][i]);
  });
});
</script>
</body>
</html>
